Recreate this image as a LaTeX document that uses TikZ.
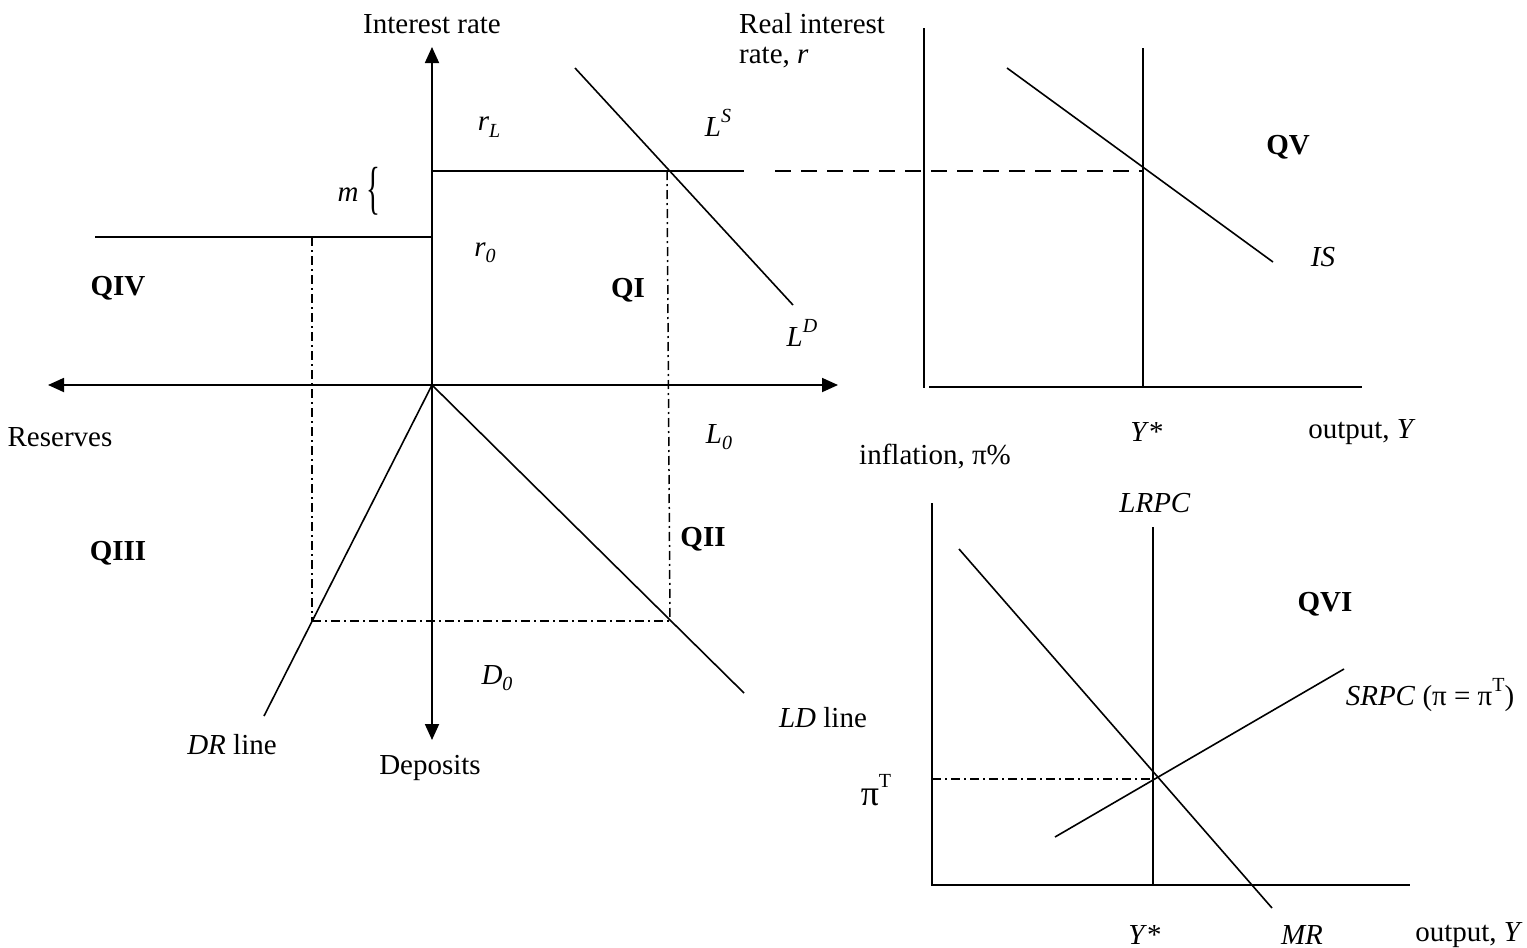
\documentclass[tikz,border=0pt]{standalone}
\usepackage{fontspec}
\usepackage{graphicx}
\setmainfont{Liberation Serif}
\usetikzlibrary{arrows.meta}
\newcommand\mysub[1]{\raisebox{-0.22em}{\fontsize{20}{20}\selectfont #1}}
\newcommand\mysup[1]{\raisebox{0.5em}{\fontsize{20}{20}\selectfont #1}}
\begin{document}
\begin{tikzpicture}[x=1pt,y=-1pt,
  ln/.style={line width=1.8pt},
  thin/.style={line width=1.6pt},
  axarrow/.style={line width=1.8pt,-{Triangle[length=16pt,width=14pt]}},
  dashdot/.style={line width=1.5pt,dash pattern=on 9pt off 4pt on 2pt off 4pt},
  dashline/.style={line width=1.5pt,dash pattern=on 16pt off 10pt},
  lbl/.style={inner sep=0pt,font=\fontsize{29}{34}\selectfont},
  qlbl/.style={inner sep=0pt,font=\fontsize{29}{34}\selectfont\bfseries}]
\useasboundingbox (0,0) rectangle (1527,948);
% ---- left chart coordinates
\coordinate (O) at (432,385);
\coordinate (top) at (432,47);
\coordinate (bot) at (432,740);
\coordinate (lft) at (48,385);
\coordinate (rgt) at (838,385);
\coordinate (rLa) at (432,171);
\coordinate (rLb) at (744,171);
\coordinate (r0a) at (95,237);
\coordinate (r0b) at (432,237);
\coordinate (LDa) at (575,68);
\coordinate (LDb) at (793,305);
\coordinate (E1) at (667,171);
\coordinate (E1d) at (670,621);
\coordinate (E4) at (312,237);
\coordinate (E3) at (312,621);
\coordinate (DRend) at (264,716);
\coordinate (LDend) at (744,693);
% axes
\draw[axarrow] (O) -- (top);
\draw[axarrow] (O) -- (bot);
\draw[axarrow] (O) -- (lft);
\draw[axarrow] (O) -- (rgt);
% lines
\draw[ln] (rLa) -- (rLb);
\draw[ln] (r0a) -- (r0b);
\draw[thin] (LDa) -- (LDb);
\draw[thin] (O) -- (DRend);
\draw[thin] (O) -- (LDend);
\draw[dashdot] (E1) -- (E1d);
\draw[dashdot] (E4) -- (E3);
\draw[dashdot] (E3) -- (E1d);
% ---- top right chart
\coordinate (A1) at (924,28);
\coordinate (A1o) at (924,388);
\coordinate (A1h) at (929,387);
\coordinate (A1r) at (1362,387);
\coordinate (Ys1t) at (1143,48);
\coordinate (Ys1b) at (1143,387);
\coordinate (ISa) at (1007,68);
\coordinate (ISb) at (1273,262);
\coordinate (dsh) at (775,171);
\coordinate (E5) at (1143,171);
\draw[thin] (A1) -- (A1o);
\draw[thin] (A1h) -- (A1r);
\draw[thin] (Ys1t) -- (Ys1b);
\draw[thin] (ISa) -- (ISb);
\draw[dashline] (dsh) -- (E5);
% ---- bottom right chart
\coordinate (B1) at (932,503);
\coordinate (B1o) at (932,885);
\coordinate (B1r) at (1410,885);
\coordinate (LRt) at (1153,527);
\coordinate (LRb) at (1153,885);
\coordinate (MRa) at (959,549);
\coordinate (MRb) at (1272,908);
\coordinate (SRa) at (1055,837);
\coordinate (SRb) at (1344,669);
\coordinate (piT) at (932,779);
\coordinate (E6) at (1153,779);
\draw[thin] (B1) -- (B1o) -- (B1r);
\draw[thin] (LRt) -- (LRb);
\draw[thin] (MRa) -- (MRb);
\draw[thin] (SRa) -- (SRb);
\draw[dashdot] (piT) -- (E6);
% ---- labels
\node[lbl] (tInt) at (432,24) {Interest rate};
\node[lbl,anchor=west] (tReal) at (739,24) {Real interest};
\node[lbl,anchor=west] (tReal2) at (739,58) {rate, \textit{r}};
\node[lbl] (trL) at (489,127) {\textit{r}\mysub{\textit{L}}};
\node[lbl] (tLS) at (718,123) {\textit{L}\mysup{\textit{S}}};
\node[lbl] (tm) at (348,195) {\textit{m}};
\node[inner sep=0pt,font=\fontsize{29}{29}\selectfont] (tbr) at (373,191) {\scalebox{1}[2]{\{}};
\node[lbl] (tr0) at (485,253) {\textit{r}\mysub{\textit{0}}};
\node[qlbl] (tQIV) at (118,288) {QIV};
\node[qlbl] (tQI) at (628,290) {QI};
\node[lbl] (tLD) at (802,333) {\textit{L}\mysup{\textit{D}}};
\node[lbl] (tRes) at (60,437) {Reserves};
\node[lbl] (tL0) at (719,437) {\textit{L}\mysub{\textit{0}}};
\node[lbl] (tinf) at (935,457) {inflation, π\%};
\node[lbl] (tYs1) at (1147,432) {\textit{Y}*};
\node[lbl] (tout1) at (1362,432) {output, \textit{Y}};
\node[qlbl] (tQV) at (1288,147) {QV};
\node[lbl] (tIS) at (1323,257) {\textit{IS}};
\node[lbl] (tLRPC) at (1155,503) {\textit{LRPC}};
\node[qlbl] (tQIII) at (118,553) {QIII};
\node[qlbl] (tQII) at (703,539) {QII};
\node[qlbl] (tQVI) at (1325,604) {QVI};
\node[lbl] (tSRPC) at (1430,695) {\textit{SRPC} (π = π\mysup{T})};
\node[lbl] (tD0) at (497,678) {\textit{D}\mysub{\textit{0}}};
\node[lbl] (tLDl) at (823,718) {\textit{LD} line};
\node[lbl] (tDRl) at (232,745) {\textit{DR} line};
\node[lbl] (tDep) at (430,768) {Deposits};
\node[lbl,font=\fontsize{36}{36}\selectfont] (tpiT) at (876,790) {π\mysup{T}};
\node[lbl] (tYs2) at (1145,935) {\textit{Y}*};
\node[lbl] (tMR) at (1302,935) {\textit{MR}};
\node[lbl] (tout2) at (1469,935) {output, \textit{Y}};
\end{tikzpicture}
\end{document}
